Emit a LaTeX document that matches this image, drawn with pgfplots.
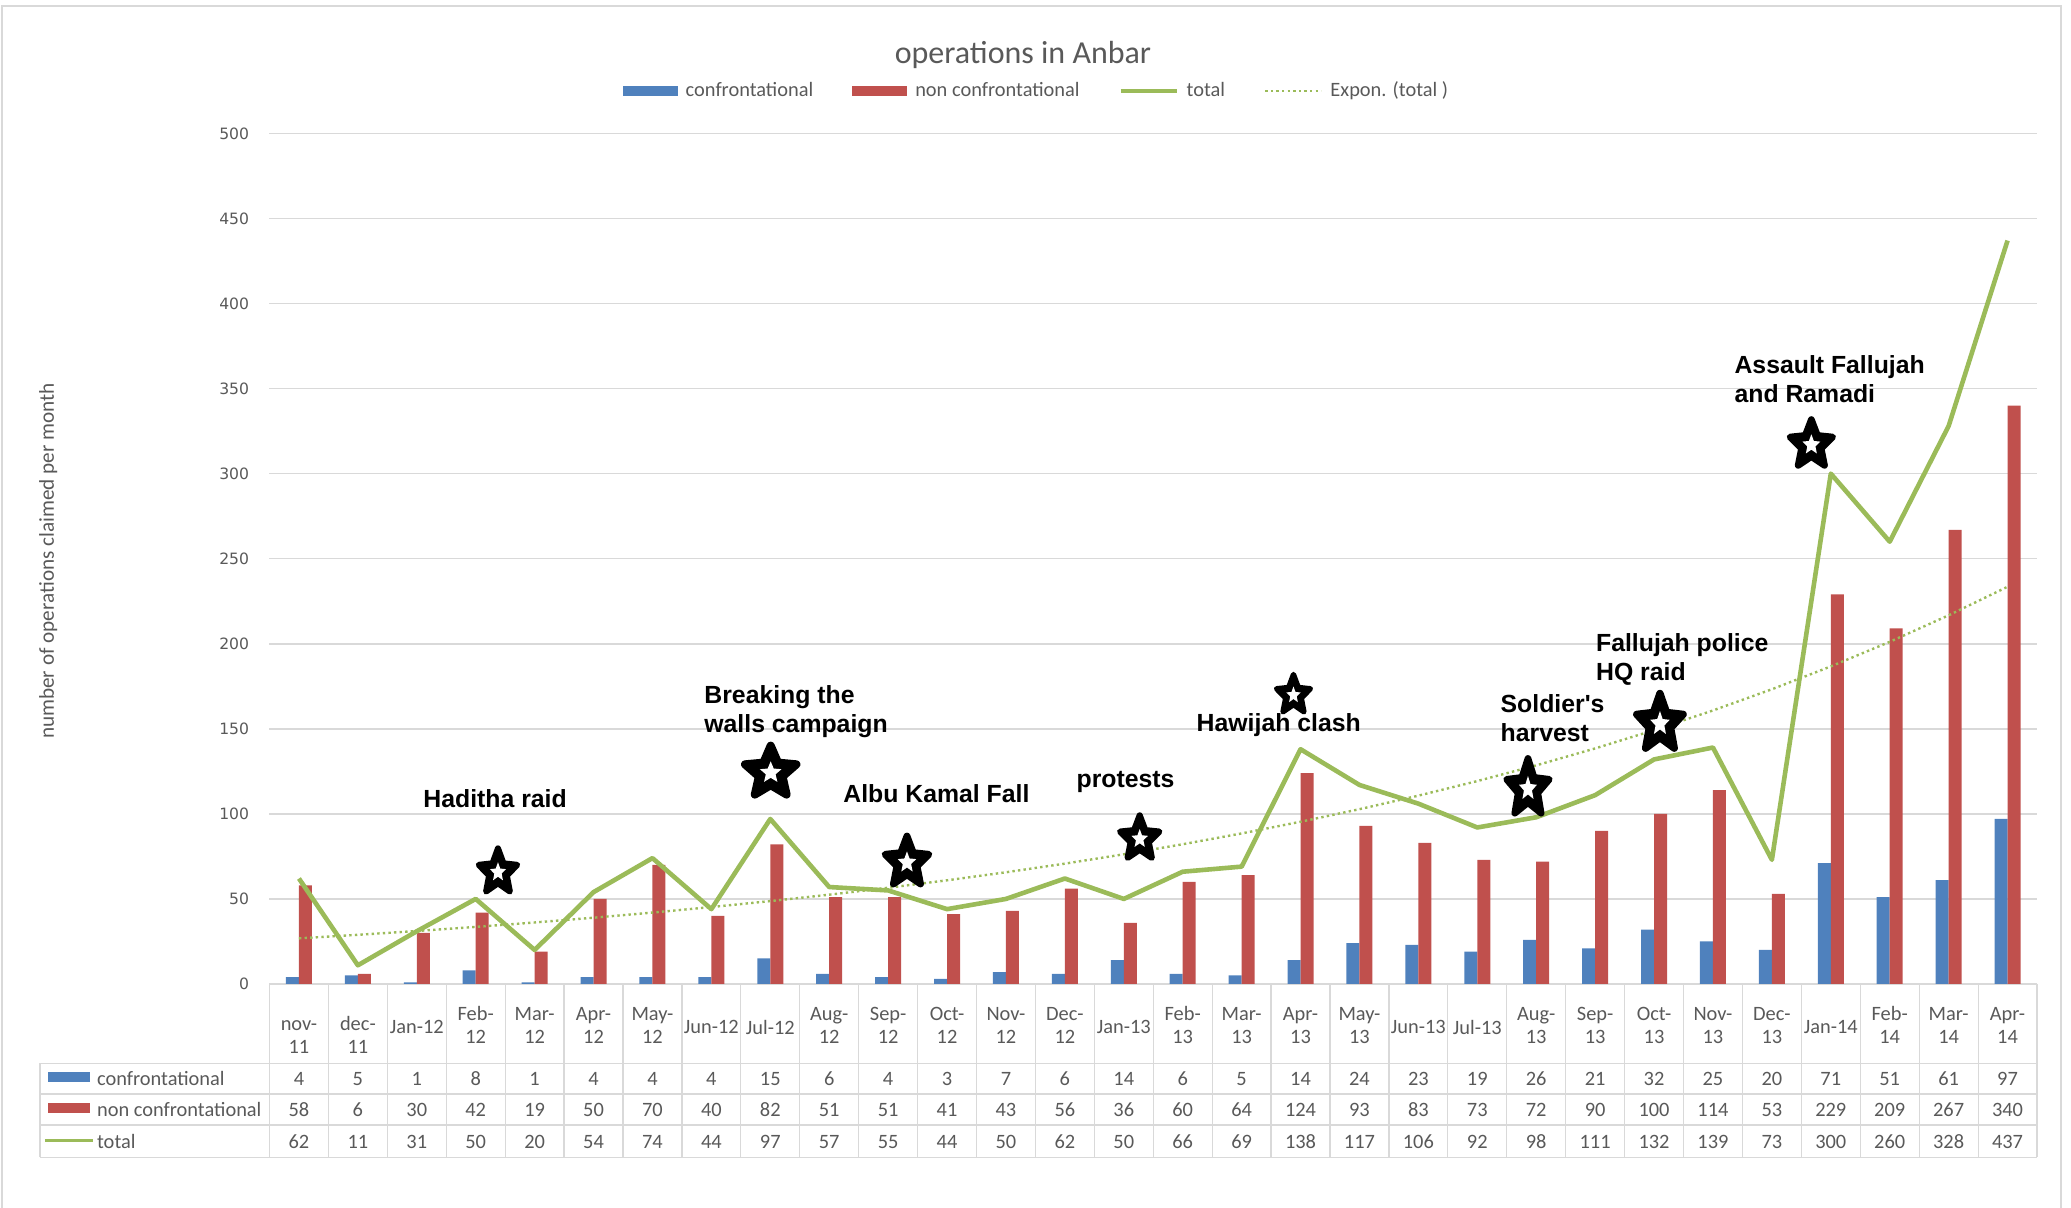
\documentclass[border=0pt]{standalone}
\usepackage{pgfplots}
\pgfplotsset{compat=1.18}
\usepackage{pgfplotstable}
\usepackage{fontspec}
\setmainfont{Carlito}
\newfontfamily\annfont{Liberation Sans}
\newfontfamily\tickfont{DejaVu Sans}
\definecolor{cblue}{HTML}{4F81BD}
\definecolor{cred}{HTML}{C0504D}
\definecolor{cgreen}{HTML}{9BBB59}
\definecolor{textgray}{HTML}{595959}
\definecolor{gridgray}{HTML}{D9D9D9}
\newcommand{\tabfont}{\fontsize{10.2}{11.5}\selectfont}
\newcommand{\annf}{\annfont\bfseries\fontsize{12.4}{14.5}\selectfont}
\newcommand{\cl}[2]{\begin{tabular}{@{}c@{}}#1\\#2\end{tabular}}
\newcommand{\clb}[2]{\begin{tabular}{@{}c@{}}\rule{0pt}{18pt}#1\\#2\end{tabular}}

\pgfdeclareplotmark{ostar}{%
  \pgfsetroundjoin
  \pgfsetlinewidth{0.3\pgfplotmarksize}%
  \pgfsetstrokecolor{black}\pgfsetfillcolor{black}%
  \pgfpathmoveto{\pgfpointpolar{90}{\pgfplotmarksize}}%
  \pgfpathlineto{\pgfpointpolar{126}{0.46\pgfplotmarksize}}%
  \pgfpathlineto{\pgfpointpolar{162}{\pgfplotmarksize}}%
  \pgfpathlineto{\pgfpointpolar{198}{0.46\pgfplotmarksize}}%
  \pgfpathlineto{\pgfpointpolar{234}{\pgfplotmarksize}}%
  \pgfpathlineto{\pgfpointpolar{270}{0.46\pgfplotmarksize}}%
  \pgfpathlineto{\pgfpointpolar{306}{\pgfplotmarksize}}%
  \pgfpathlineto{\pgfpointpolar{342}{0.46\pgfplotmarksize}}%
  \pgfpathlineto{\pgfpointpolar{18}{\pgfplotmarksize}}%
  \pgfpathlineto{\pgfpointpolar{54}{0.46\pgfplotmarksize}}%
  \pgfpathclose
  \pgfusepathqfillstroke
  \pgfsetfillcolor{white}%
  \pgfpathmoveto{\pgfpointpolar{90}{0.42\pgfplotmarksize}}%
  \pgfpathlineto{\pgfpointpolar{126}{0.19\pgfplotmarksize}}%
  \pgfpathlineto{\pgfpointpolar{162}{0.42\pgfplotmarksize}}%
  \pgfpathlineto{\pgfpointpolar{198}{0.19\pgfplotmarksize}}%
  \pgfpathlineto{\pgfpointpolar{234}{0.42\pgfplotmarksize}}%
  \pgfpathlineto{\pgfpointpolar{270}{0.19\pgfplotmarksize}}%
  \pgfpathlineto{\pgfpointpolar{306}{0.42\pgfplotmarksize}}%
  \pgfpathlineto{\pgfpointpolar{342}{0.19\pgfplotmarksize}}%
  \pgfpathlineto{\pgfpointpolar{18}{0.42\pgfplotmarksize}}%
  \pgfpathlineto{\pgfpointpolar{54}{0.19\pgfplotmarksize}}%
  \pgfpathclose
  \pgfusepathqfill
}

\pgfplotstableread{
x conf nonconf total trend
1 4 58 62 26.83
2 5 6 11 28.91
3 1 30 31 31.15
4 8 42 50 33.56
5 1 19 20 36.16
6 4 50 54 38.96
7 4 70 74 41.98
8 4 40 44 45.23
9 15 82 97 48.73
10 6 51 57 52.50
11 4 51 55 56.57
12 3 41 44 60.95
13 7 43 50 65.67
14 6 56 62 70.75
15 14 36 50 76.24
16 6 60 66 82.14
17 5 64 69 88.50
18 14 124 138 95.36
19 24 93 117 102.75
20 23 83 106 110.71
21 19 73 92 119.28
22 26 72 98 128.52
23 21 90 111 138.47
24 32 100 132 149.20
25 25 114 139 160.80
26 20 53 73 173.25
27 71 229 300 186.68
28 51 209 260 201.13
29 61 267 328 216.72
30 97 340 437 233.50
}\data

\begin{document}
\begin{tikzpicture}
\path[use as bounding box] (-134.75pt,-112pt) rectangle (900.75pt,492pt);
\draw[gridgray, line width=0.75pt] (-133.75pt,-113pt) -- (-133.75pt,489pt) -- (895.75pt,489pt) -- (895.75pt,-113pt);
\begin{axis}[
  scale only axis, width=883.75pt, height=425.3pt,
  xmin=0.5, xmax=30.5, ymin=0, ymax=500,
  clip=false,
  axis line style={draw=none},
  major tick length=0pt,
  ytick={0,50,...,500},
  ymajorgrids, grid style={gridgray, line width=0.75pt},
  xtick={1,...,30},
  xticklabels={{\clb{nov-}{11}},{\clb{dec-}{11}},{Jan-12},{\cl{Feb-}{12}},{\cl{Mar-}{12}},{\cl{Apr-}{12}},{\cl{May-}{12}},{Jun-12},{Jul-12},{\cl{Aug-}{12}},{\cl{Sep-}{12}},{\cl{Oct-}{12}},{\cl{Nov-}{12}},{\cl{Dec-}{12}},{Jan-13},{\cl{Feb-}{13}},{\cl{Mar-}{13}},{\cl{Apr-}{13}},{\cl{May-}{13}},{Jun-13},{Jul-13},{\cl{Aug-}{13}},{\cl{Sep-}{13}},{\cl{Oct-}{13}},{\cl{Nov-}{13}},{\cl{Dec-}{13}},{Jan-14},{\cl{Feb-}{14}},{\cl{Mar-}{14}},{\cl{Apr-}{14}}},
  xticklabel style={anchor=center, yshift=-21.5pt, font=\tabfont, text=textgray, inner sep=0pt},
  /pgf/number format/assume math mode=true,
  yticklabel style={font={\tickfont\fontsize{7.8}{9}\selectfont}, text=textgray, anchor=east, inner sep=0pt, xshift=-10pt},
  ylabel={number of operations claimed per month},
  ylabel style={at={(axis description cs:-0.1252,0.4973)}, anchor=center, font=\fontsize{10.6}{12}\selectfont, text=textgray},
  title={operations in Anbar},
  title style={at={(axis description cs:0.4263,1.0945)}, anchor=center, yshift=-7pt, font=\fontsize{16}{19}\selectfont, text=textgray},
  legend style={at={(0.4342,1.0498)}, anchor=center, draw=none, fill=none, inner sep=0pt,
    font=\fontsize{10.2}{12}\selectfont, text=textgray, nodes={inner sep=1.5pt},
    /tikz/every odd column/.append style={column sep=2.5pt},
    /tikz/every even column/.append style={column sep=18pt}},
  legend columns=4,
]
\addplot[ybar, bar width=6.5pt, bar shift=-3.25pt, fill=cblue, draw=none,
  legend image code/.code={\fill[cblue] (-2pt,-2.5pt) rectangle (25.5pt,2.5pt);}]
  table[x=x, y=conf] {\data};
\addlegendentry{confrontational}
\addplot[ybar, bar width=6.5pt, bar shift=3.25pt, fill=cred, draw=none,
  legend image code/.code={\fill[cred] (-1pt,-2.5pt) rectangle (26.5pt,2.5pt);}]
  table[x=x, y=nonconf] {\data};
\addlegendentry{non confrontational}
\addplot[cgreen, line width=2.3pt, line join=round, mark=none,
  legend image code/.code={\draw[cgreen, line width=2pt] (0pt,0pt) -- (28pt,0pt);}]
  table[x=x, y=total] {\data};
\addlegendentry{total}
\addplot[cgreen, line width=1.2pt, dash pattern=on 1.2pt off 1.6pt, mark=none,
  legend image code/.code={\draw[cgreen, line width=1.2pt, dash pattern=on 1.2pt off 1.6pt] (0pt,0pt) -- (28pt,0pt);}]
  table[x=x, y=trend] {\data};
\addlegendentry{Expon. (total )}

% table numbers
\pgfplotsset{every node near coord/.style={anchor=center, font=\tabfont, text=textgray, inner sep=0pt}}
\addplot[draw=none, forget plot, nodes near coords, nodes near coords align={center}, point meta=\thisrow{conf}] table[x=x, y expr=-55.6] {\data};
\addplot[draw=none, forget plot, nodes near coords, nodes near coords align={center}, point meta=\thisrow{nonconf}] table[x=x, y expr=-73.8] {\data};
\addplot[draw=none, forget plot, nodes near coords, nodes near coords align={center}, point meta=\thisrow{total}] table[x=x, y expr=-92.6] {\data};

% stars
\addplot[forget plot, only marks, mark=ostar, mark size=10.1pt, mark options={yscale=1.18}] coordinates {(4.378,65.7)};
\addplot[forget plot, only marks, mark=ostar, mark size=13.5pt, mark options={yscale=1.0}] coordinates {(9.007,124.2)};
\addplot[forget plot, only marks, mark=ostar, mark size=11.5pt, mark options={yscale=1.15}] coordinates {(11.32,71.4)};
\addplot[forget plot, only marks, mark=ostar, mark size=10.3pt, mark options={yscale=1.14}] coordinates {(15.27,85.3)};
\addplot[forget plot, only marks, mark=ostar, mark size=8.9pt, mark options={yscale=1.16}] coordinates {(17.88,169.8)};
\addplot[forget plot, only marks, mark=ostar, mark size=11.2pt, mark options={yscale=1.35}] coordinates {(21.86,114.8)};
\addplot[forget plot, only marks, mark=ostar, mark size=12.2pt, mark options={yscale=1.24}] coordinates {(24.10,153.0)};
\addplot[forget plot, only marks, mark=ostar, mark size=11.2pt, mark options={yscale=1.13}] coordinates {(26.67,316.9)};

% annotations
\node[font=\annf, inner sep=0pt] at (axis cs:4.33,108.7) {Haditha raid};
\node[font=\annf, inner sep=0pt, anchor=west, align=left] at (axis cs:7.875,160) {Breaking the\\walls campaign};
\node[font=\annf, inner sep=0pt] at (axis cs:11.82,111.8) {Albu Kamal Fall};
\node[font=\annf, inner sep=0pt] at (axis cs:15.03,118.8) {protests};
\node[font=\annf, inner sep=0pt] at (axis cs:17.63,152.2) {Hawijah clash};
\node[font=\annf, inner sep=0pt, anchor=west, align=left] at (axis cs:21.39,156.4) {Soldier's\\harvest};
\node[font=\annf, inner sep=0pt, anchor=west, align=left] at (axis cs:23.01,191) {Fallujah police\\HQ raid};
\node[font=\annf, inner sep=0pt, anchor=west, align=left] at (axis cs:25.36,355.6) {Assault Fallujah\\and Ramadi};
\end{axis}

% data table grid
\begin{scope}[gridgray, line width=0.6pt]
\foreach \k in {0,...,30} {\draw ({\k*29.45833pt},0pt) -- ({\k*29.45833pt},-86.65pt);}
\draw (-114.75pt,-39.65pt) -- (883.75pt,-39.65pt);
\draw (-114.75pt,-55pt) -- (883.75pt,-55pt);
\draw (-114.75pt,-70.5pt) -- (883.75pt,-70.5pt);
\draw (-114.75pt,-86.65pt) -- (883.75pt,-86.65pt);
\draw (-114.75pt,-39.65pt) -- (-114.75pt,-86.65pt);
\end{scope}
\fill[cblue] (-110.9pt,-49.15pt) rectangle (-89.75pt,-44.15pt);
\fill[cred] (-110.9pt,-64.65pt) rectangle (-89.75pt,-59.65pt);
\draw[cgreen, line width=1.35pt] (-112.25pt,-78.1pt) -- (-88.1pt,-78.1pt);
\node[anchor=west, inner sep=0pt, font=\tabfont, text=textgray] at (-86.4pt,-47.3pt) {confrontational};
\node[anchor=west, inner sep=0pt, font=\tabfont, text=textgray] at (-86.4pt,-62.8pt) {non confrontational};
\node[anchor=west, inner sep=0pt, font=\tabfont, text=textgray] at (-86.4pt,-78.6pt) {total};
\end{tikzpicture}
\end{document}
